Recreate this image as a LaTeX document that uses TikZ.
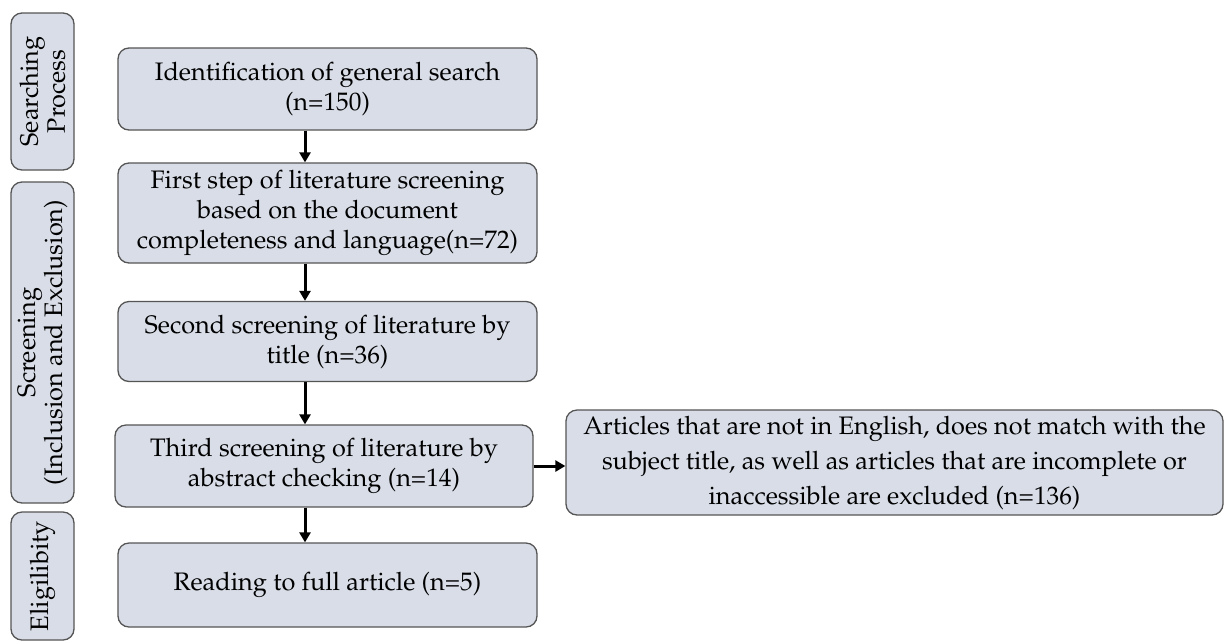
\documentclass[tikz,border=0pt]{standalone}
\usepackage[T1]{fontenc}
\usepackage{mathpazo}
\usetikzlibrary{arrows.meta}
\definecolor{boxfill}{HTML}{D8DDE7}
\definecolor{boxline}{HTML}{555555}
\begin{document}
\begin{tikzpicture}[x=1pt,y=-1pt,
  box/.style={draw=boxline,line width=1.3pt,fill=boxfill,rounded corners=11pt,
    align=center,inner sep=0pt,font=\fontsize{25.3}{30}\selectfont},
  side/.style={box,rotate=90,minimum height=63pt,font=\fontsize{25.3}{27}\selectfont},
  arr/.style={line width=3pt,-{Triangle[length=10pt,width=11pt]}}]
\useasboundingbox (0,0) rectangle (1225,641);
\node[side,minimum width=157pt] (s1) at (42.5,91.5) {Searching\\Process};
\node[side,minimum width=321pt] (s2) at (42.5,342.5) {Screening\\(Inclusion and Exclusion)};
\node[side,minimum width=128pt] (s3) at (42.5,576) {Eligilibity};
\node[box,minimum width=419pt,minimum height=82pt] (b1) at (327.5,89) {Identification of general search\\(n=150)};
\node[box,minimum width=419pt,minimum height=100pt] (b2) at (327.5,213) {First step of literature screening\\based on the document\\completeness and language(n=72)};
\node[box,minimum width=419pt,minimum height=80pt] (b3) at (327.5,341.5) {Second screening of literature by\\title (n=36)};
\node[box,minimum width=418pt,minimum height=82pt] (b4) at (324,466) {Third screening of literature by\\abstract checking (n=14)};
\node[box,minimum width=419pt,minimum height=84pt] (b5) at (327.5,585) {Reading to full article (n=5)};
\node[box,minimum width=657pt,minimum height=105pt,font=\fontsize{25.3}{35}\selectfont] (r) at (894.5,462.5) {Articles that are not in English, does not match with the\\subject title, as well as articles that are incomplete or\\inaccessible are excluded (n=136)};
\draw[arr] (b1.south -| 305,0) -- (b2.north -| 305,0);
\draw[arr] (b2.south -| 305,0) -- (b3.north -| 305,0);
\draw[arr] (b3.south -| 305,0) -- (b4.north -| 305,0);
\draw[arr] (b4.south -| 305,0) -- (b5.north -| 305,0);
\draw[arr] (b4.east |- 0,466) -- (r.west |- 0,466);
\end{tikzpicture}
\end{document}
